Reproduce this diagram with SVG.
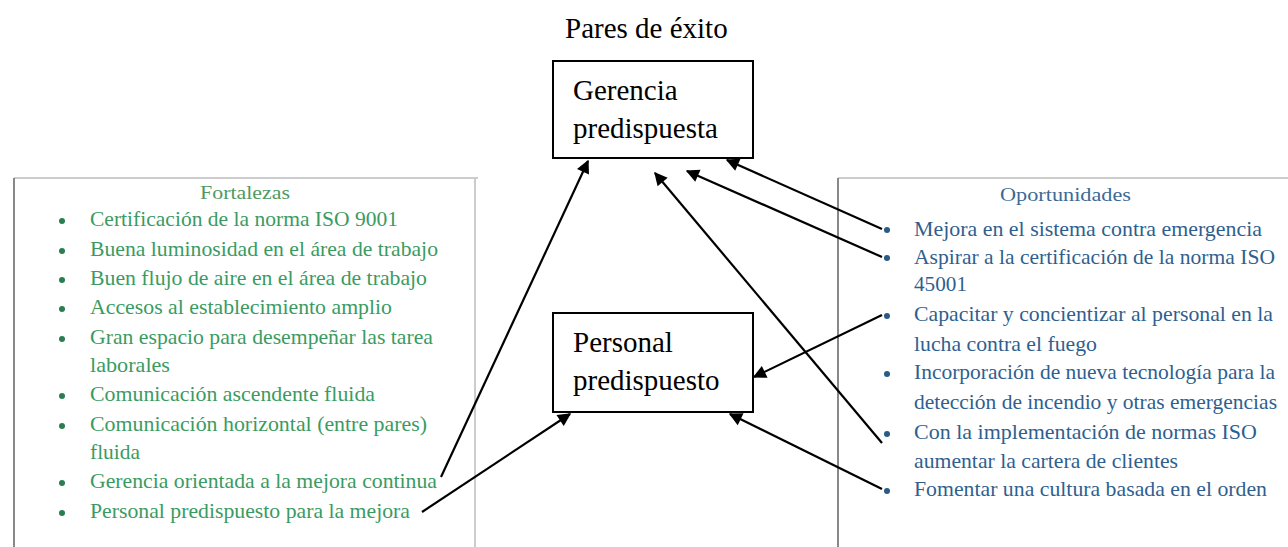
<svg xmlns="http://www.w3.org/2000/svg" width="1288" height="547" viewBox="0 0 1288 547">
<style>
.g{font-size:21px;fill:#3a9b62}
.b{font-size:21px;fill:#2f5f8f}
.gb{fill:#2a7d4f}
.bb{fill:#2b5a86}
.box{fill:#fff;stroke:#000;stroke-width:2}
.edge{stroke:#000;stroke-width:2.2;fill:none;marker-end:url(#ah)}
.frame{stroke:#888;stroke-width:2;fill:none}
.frame2{stroke:#ccc;stroke-width:2;fill:none}
</style>
<defs>
<marker id="ah" viewBox="0 0 10 10" refX="9" refY="5" markerWidth="7" markerHeight="6" markerUnits="userSpaceOnUse" orient="auto" style="overflow:visible">
<path d="M0,0 L10,5 L0,10 z" fill="#000" transform="scale(2.2)" transform-origin="9 5"/>
</marker>
</defs>
<rect width="1288" height="547" fill="#fff"/>

<g id="title" font-family="Liberation Serif, Times New Roman, serif">
<text x="565" y="38" font-size="29" fill="#000">Pares de éxito</text>
</g>

<g id="fortalezas" font-family="Liberation Serif, Times New Roman, serif">
<line class="frame2" x1="14" y1="178" x2="478" y2="178"/>
<line class="frame" x1="14" y1="178" x2="14" y2="547"/>
<line class="frame2" x1="475" y1="178" x2="475" y2="547"/>
<text x="200" y="199" font-size="18" textLength="90" lengthAdjust="spacingAndGlyphs" fill="#4f9a62">Fortalezas</text>
<g class="gb">
<circle cx="62" cy="221" r="3"/><circle cx="62" cy="251" r="3"/><circle cx="62" cy="280" r="3"/><circle cx="62" cy="309" r="3"/><circle cx="62" cy="339" r="3"/><circle cx="62" cy="396" r="3"/><circle cx="62" cy="426" r="3"/><circle cx="62" cy="483" r="3"/><circle cx="62" cy="513" r="3"/>
</g>
<text class="g" x="90" y="226" textLength="308" lengthAdjust="spacingAndGlyphs">Certificación de la norma ISO 9001</text>
<text class="g" x="90" y="256" textLength="348" lengthAdjust="spacingAndGlyphs">Buena luminosidad en el área de trabajo</text>
<text class="g" x="90" y="285" textLength="337" lengthAdjust="spacingAndGlyphs">Buen flujo de aire en el área de trabajo</text>
<text class="g" x="90" y="314" textLength="302" lengthAdjust="spacingAndGlyphs">Accesos al establecimiento amplio</text>
<text class="g" x="90" y="344" textLength="343" lengthAdjust="spacingAndGlyphs">Gran espacio para desempeñar las tarea</text>
<text class="g" x="90" y="372" textLength="80" lengthAdjust="spacingAndGlyphs">laborales</text>
<text class="g" x="90" y="401" textLength="285" lengthAdjust="spacingAndGlyphs">Comunicación ascendente fluida</text>
<text class="g" x="90" y="431" textLength="337" lengthAdjust="spacingAndGlyphs">Comunicación horizontal (entre pares)</text>
<text class="g" x="90" y="459" textLength="50" lengthAdjust="spacingAndGlyphs">fluida</text>
<text class="g" x="90" y="488" textLength="347" lengthAdjust="spacingAndGlyphs">Gerencia orientada a la mejora continua</text>
<text class="g" x="90" y="518" textLength="320" lengthAdjust="spacingAndGlyphs">Personal predispuesto para la mejora</text>
</g>

<g id="oportunidades" font-family="Liberation Serif, Times New Roman, serif">
<line class="frame2" x1="838" y1="178" x2="1288" y2="178"/>
<line class="frame" x1="838" y1="178" x2="838" y2="547"/>
<text x="1000" y="201" font-size="18" textLength="131" lengthAdjust="spacingAndGlyphs" fill="#3c6a96">Oportunidades</text>
<g class="bb">
<circle cx="887" cy="230" r="3"/><circle cx="887" cy="258" r="3"/><circle cx="887" cy="316" r="3"/><circle cx="887" cy="374" r="3"/><circle cx="887" cy="434" r="3"/><circle cx="887" cy="491" r="3"/>
</g>
<text class="b" x="914" y="236" textLength="348" lengthAdjust="spacingAndGlyphs">Mejora en el sistema contra emergencia</text>
<text class="b" x="914" y="264" textLength="361" lengthAdjust="spacingAndGlyphs">Aspirar a la certificación de la norma ISO</text>
<text class="b" x="914" y="291" textLength="53" lengthAdjust="spacingAndGlyphs">45001</text>
<text class="b" x="914" y="321" textLength="359" lengthAdjust="spacingAndGlyphs">Capacitar y concientizar al personal en la</text>
<text class="b" x="914" y="351" textLength="183" lengthAdjust="spacingAndGlyphs">lucha contra el fuego</text>
<text class="b" x="914" y="379" textLength="361" lengthAdjust="spacingAndGlyphs">Incorporación de nueva tecnología para la</text>
<text class="b" x="914" y="409" textLength="363" lengthAdjust="spacingAndGlyphs">detección de incendio y  otras emergencias</text>
<text class="b" x="914" y="439" textLength="343" lengthAdjust="spacingAndGlyphs">Con la implementación de normas ISO</text>
<text class="b" x="914" y="468" textLength="264" lengthAdjust="spacingAndGlyphs">aumentar la cartera de clientes</text>
<text class="b" x="914" y="496" textLength="353" lengthAdjust="spacingAndGlyphs">Fomentar una cultura basada en el orden</text>
</g>

<g id="gerencia" font-family="Liberation Serif, Times New Roman, serif">
<rect class="box" x="553" y="61" width="200" height="97"/>
<text x="573" y="100" font-size="29" fill="#000">Gerencia</text>
<text x="573" y="138" font-size="29" fill="#000">predispuesta</text>
</g>

<g id="personal" font-family="Liberation Serif, Times New Roman, serif">
<rect class="box" x="553" y="313" width="200" height="99"/>
<text x="573" y="352" font-size="29" fill="#000">Personal</text>
<text x="573" y="390" font-size="29" fill="#000">predispuesto</text>
</g>

<g id="connectors">
<line class="edge" x1="441" y1="477" x2="588" y2="161"/>
<line class="edge" x1="422" y1="512" x2="570" y2="414"/>
<line class="edge" x1="882" y1="229" x2="727" y2="160"/>
<line class="edge" x1="882" y1="257" x2="687" y2="171"/>
<line class="edge" x1="882" y1="443" x2="655" y2="173"/>
<line class="edge" x1="882" y1="315" x2="754" y2="377"/>
<line class="edge" x1="882" y1="489" x2="730" y2="414"/>
</g>
</svg>
